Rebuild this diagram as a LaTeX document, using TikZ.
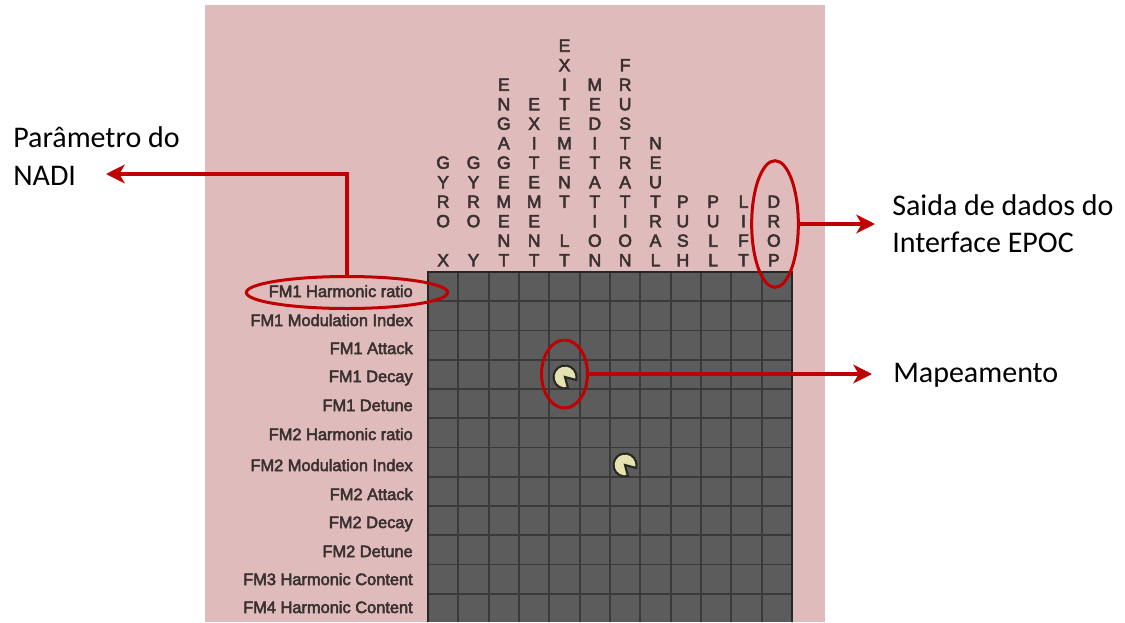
\documentclass[tikz,border=0pt]{standalone}
\usepackage{fontspec}
\setmainfont{Liberation Sans}
\newfontfamily\calib{Carlito}
\newfontfamily\lblfont[FakeBold=3]{Liberation Sans}
\usetikzlibrary{shapes.geometric,arrows.meta}
\definecolor{pinkbg}{HTML}{DFBBBB}
\definecolor{gridfill}{HTML}{5C5C5C}
\definecolor{gridline}{HTML}{3A3A3A}
\definecolor{redc}{HTML}{C00000}
\definecolor{labtxt}{HTML}{3A3030}
\definecolor{pacfill}{HTML}{E4E2B0}
\definecolor{pacline}{HTML}{2A2A22}
\newcommand\mypac[1]{\filldraw[fill=pacfill,draw=pacline,line width=1.6pt] (#1) -- ++(75:11.5) arc[start angle=75,end angle=375,radius=11.5] -- cycle;}
\begin{document}
\begin{tikzpicture}[x=0.75pt,y=-0.75pt,
  collab/.style={font={\lblfont\fontsize{13.2}{14.625}\selectfont},text=labtxt,align=center,inner sep=0pt,anchor=south},
  rowlab/.style={font={\lblfont\fontsize{12.3}{14}\selectfont},text=labtxt,inner sep=0pt,anchor=base east},
  biglab/.style={font={\calib\fontsize{22.5}{28}\selectfont},text=black,inner sep=0pt,anchor=base west},
  redell/.style={ellipse,draw=redc,line width=2.25pt,inner sep=0pt,outer sep=0pt},
  redarrow/.style={draw=redc,line width=3pt,-{Stealth[length=14pt,width=14pt,inset=4pt]}}]
\useasboundingbox (0,0) rectangle (1125,622);
\fill[white] (0,0) rectangle (1125,622);
\fill[pinkbg] (205,5) rectangle (825,622);
% grid
\fill[gridfill] (428,272) rectangle (792,622);
\foreach \i in {1,...,11}
  \draw[gridline,line width=1.3pt] ({428+\i*364/12},272) -- ({428+\i*364/12},622);
\foreach \j in {1,...,11}
  \draw[gridline,line width=1.3pt] (428,{272+\j*29.25}) -- (792,{272+\j*29.25});
\draw[black!85,line width=1.6pt] (428,622) -- (428,272) -- (792,272) -- (792,622);
% column labels
\foreach \i/\t in {1/{G\\Y\\R\\O\\~\\X},2/{G\\Y\\R\\O\\~\\Y},
  3/{E\\N\\G\\A\\G\\E\\M\\E\\N\\T},4/{E\\X\\I\\T\\E\\M\\E\\N\\T},
  5/{E\\X\\I\\T\\E\\M\\E\\N\\T\\~\\L\\T},6/{M\\E\\D\\I\\T\\A\\T\\I\\O\\N},
  7/{F\\R\\U\\S\\T\\R\\A\\T\\I\\O\\N},8/{N\\E\\U\\T\\R\\A\\L},
  9/{P\\U\\S\\H},10/{P\\U\\L\\L},11/{L\\I\\F\\T},12/{D\\R\\O\\P}}
  \node[collab] (c\i) at ({428+30.333*(\i-0.5)-(\i>8)*3},266.5) {\t};
% row labels
\node[rowlab] (r1) at (413,297) {FM1 Harmonic ratio};
\node[rowlab] (r2) at (413,326) {FM1 Modulation Index};
\node[rowlab] (r3) at (413,354) {FM1 Attack};
\node[rowlab] (r4) at (413,382) {FM1 Decay};
\node[rowlab] (r5) at (413,411) {FM1 Detune};
\node[rowlab] (r6) at (413,440) {FM2 Harmonic ratio};
\node[rowlab] (r7) at (413,471) {FM2 Modulation Index};
\node[rowlab] (r8) at (413,500) {FM2 Attack};
\node[rowlab] (r9) at (413,528) {FM2 Decay};
\node[rowlab] (r10) at (413,557) {FM2 Detune};
\node[rowlab] (r11) at (413,585) {FM3 Harmonic Content};
\node[rowlab] (r12) at (413,613) {FM4 Harmonic Content};
% pacmen
\mypac{565,377}
\mypac{625,465}
% highlight ellipses
\node[redell,minimum width=151pt,minimum height=24pt] (e1) at (347,292.5) {};
\node[redell,minimum width=35pt,minimum height=95pt] (e2) at (775,224) {};
\node[redell,minimum width=34.5pt,minimum height=51pt] (e3) at (564.5,374) {};
% annotation texts
\node[biglab] (tA1) at (13,147) {Parâmetro do};
\node[biglab] (tA2) at (13,185) {NADI};
\node[biglab] (tB1) at (892,215) {Saida de dados do};
\node[biglab] (tB2) at (892,252) {Interface EPOC};
\node[biglab] (tC) at (893,382) {Mapeamento};
% arrows
\coordinate (tipA) at (106,174);
\coordinate (tipB) at (875,224);
\coordinate (tipC) at (872,374);
\draw[redarrow] (e1.north) |- (tipA);
\draw[redarrow] (e2.east) -- (tipB);
\draw[redarrow] (e3.east) -- (tipC);
\end{tikzpicture}
\end{document}
